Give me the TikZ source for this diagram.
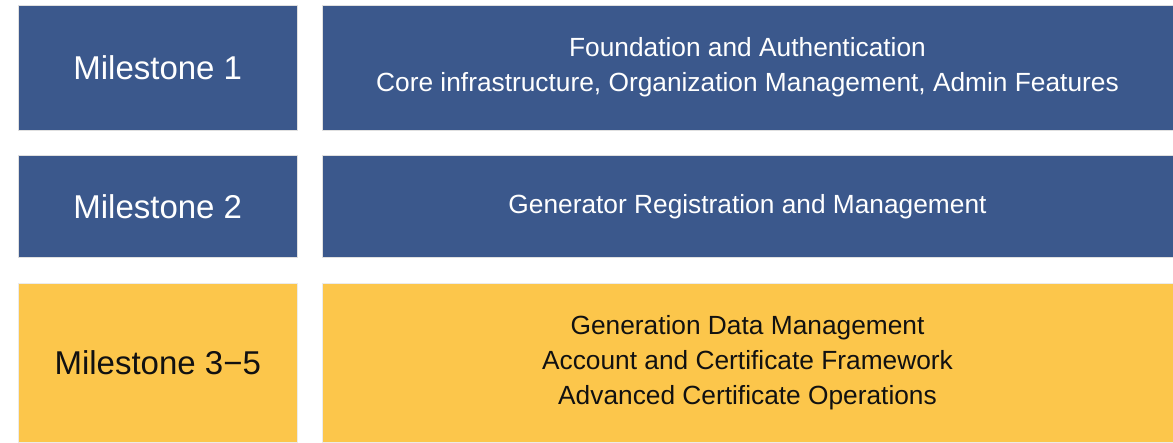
\documentclass[tikz,border=0pt]{standalone}
\usepackage{fontspec}
\setmainfont{Liberation Sans}
\usepackage{tikz}
\usetikzlibrary{positioning}

\definecolor{msBlue}{RGB}{59,88,140}
\definecolor{msYellow}{RGB}{252,198,75}
\definecolor{msInk}{RGB}{17,17,17}

\tikzset{
	tag/.style={minimum width=279.5pt, inner sep=0pt, outer sep=0pt, align=center, font=\fontsize{33}{38}\selectfont},
	desc/.style={minimum width=851pt, inner sep=0pt, outer sep=0pt, align=center, font=\fontsize{26.3}{35}\selectfont},
	done/.style={fill=msBlue, text=white, draw=black!12, line width=0.6pt},
	todo/.style={fill=msYellow, text=msInk, draw=black!8, line width=0.6pt}
}

\begin{document}
\begin{tikzpicture}[x=1pt, y=-1pt]
			\useasboundingbox (0,0) rectangle (1173,442);

			% one row: name, centre y, height, style, label, description
			\newcommand{\drawMilestone}[6]
			{
				\node [tag, #4, minimum height=#3pt] (#1) at (157.75,#2) {#5};
				\node [desc, #4, minimum height=#3pt, right=24.5pt of #1] (#1d) {#6};
			}

			\drawMilestone{ms1}{67.5}{125}{done}{Milestone 1}{Foundation and Authentication\\Core infrastructure, Organization Management, Admin Features}
			\drawMilestone{ms2}{206.25}{102.5}{done}{Milestone 2}{Generator Registration and Management}
			\drawMilestone{ms3}{362.5}{159}{todo}{Milestone 3−5}{Generation Data Management\\Account and Certificate Framework\\Advanced Certificate Operations}
		\end{tikzpicture}
\end{document}
